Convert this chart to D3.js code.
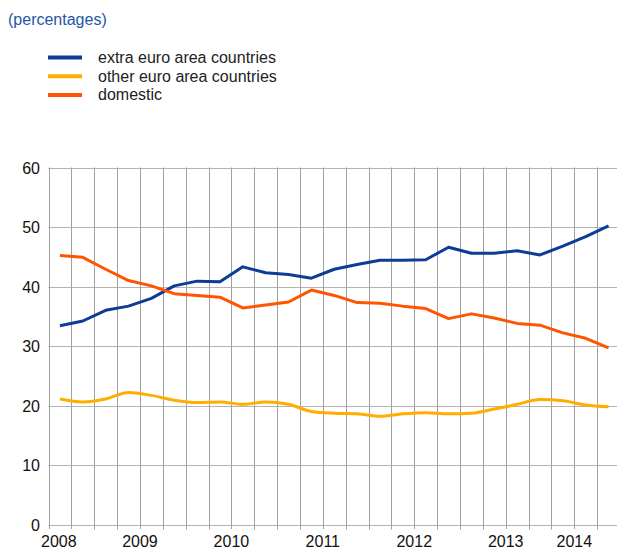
<!DOCTYPE html>
<html>
<head>
<meta charset="utf-8">
<script src="https://cdn.jsdelivr.net/npm/d3@7"></script>
<style>
  html, body { margin: 0; padding: 0; background: #fff; }
  svg { display: block; font-family: "Liberation Sans", Arial, sans-serif; }
</style>
</head>
<body>
<div id="chart"></div>
<script>
// ── Data (quarterly shares, percentages) ─────────────────────────────────────
const extraEuro = [33.4, 34.2, 36.0, 36.7, 38.0, 40.1, 40.9, 40.8, 43.3, 42.3, 42.0, 41.4, 42.9,
                   43.7, 44.4, 44.4, 44.5, 46.6, 45.6, 45.6, 46.0, 45.3, 46.8, 48.4, 50.2];
const otherEuro = [21.1, 20.6, 21.1, 22.2, 21.7, 20.9, 20.5, 20.6, 20.2, 20.6, 20.2, 19.0, 18.7,
                   18.6, 18.2, 18.6, 18.8, 18.6, 18.7, 19.4, 20.2, 21.0, 20.8, 20.1, 19.8];
const domestic  = [45.2, 44.9, 42.9, 41.0, 40.1, 38.8, 38.5, 38.2, 36.4, 36.9, 37.4, 39.4, 38.5,
                   37.3, 37.2, 36.7, 36.3, 34.6, 35.4, 34.7, 33.8, 33.5, 32.2, 31.3, 29.7];

const seriesNames = ['extra euro area countries', 'other euro area countries', 'domestic'];
const yearLabels  = ['2008', '2009', '2010', '2011', '2012', '2013', '2014'];
const yearSlots   = [0.45, 4, 8, 12, 16, 20, 23];   // category-slot boundary under each label
const yTicks      = [0, 10, 20, 30, 40, 50, 60];

const COLORS = ['#0b3d97', '#ffae00', '#ff5500'];
const W = 617, H = 551;
const M = { top: 167.5, left: 48.5, bottom: 524.5 };
const nCat = extraEuro.length;

const svg = d3.select('#chart').append('svg').attr('width', W).attr('height', H);

// ── Scales ───────────────────────────────────────────────────────────────────
// one slot per quarter, points sit in the middle of their slot
const slotW = 22.86;
const x = d3.scaleLinear().domain([0, nCat]).range([M.left, M.left + nCat * slotW]);
const y = d3.scaleLinear().domain([0, 60]).range([M.bottom, M.top]);

// ── Title & legend ───────────────────────────────────────────────────────────
svg.append('text').attr('x', 8).attr('y', 25)
  .attr('font-size', 16).attr('fill', '#2456a6').text('(percentages)');

const leg = svg.append('g');
seriesNames.forEach((name, i) => {
  const cy = 57.5 + i * 18.7;
  leg.append('line').attr('x1', 48).attr('x2', 82).attr('y1', cy).attr('y2', cy)
    .attr('stroke', COLORS[i]).attr('stroke-width', 4);
  leg.append('text').attr('x', 98).attr('y', cy + 5.5)
    .attr('font-size', 16).attr('fill', '#222').text(name);
});

// ── Grid ─────────────────────────────────────────────────────────────────────
const g = svg.append('g');
g.selectAll('line.h').data(yTicks).join('line')
  .attr('x1', M.left).attr('x2', W)
  .attr('y1', d => Math.round(y(d)) + 0.5).attr('y2', d => Math.round(y(d)) + 0.5)
  .attr('stroke', '#b3b3b3');

g.selectAll('line.v').data(d3.range(0, nCat)).join('line')
  .attr('x1', d => Math.round(x(d)) + 0.5).attr('x2', d => Math.round(x(d)) + 0.5)
  .attr('y1', M.top).attr('y2', d => d === 0 ? M.bottom + 6 : M.bottom + 5)
  .attr('stroke', '#a0a0a0');

// ── Axis labels ──────────────────────────────────────────────────────────────
g.selectAll('text.y').data(yTicks).join('text')
  .attr('x', 40).attr('y', d => y(d) + 6)
  .attr('text-anchor', 'end').attr('font-size', 16).attr('fill', '#111')
  .text(d => d);

const xl = g.selectAll('g.xl').data(yearLabels).join('g')
  .attr('transform', (d, i) => `translate(${x(yearSlots[i])},547)`);
xl.append('rect').attr('x', -20).attr('y', -18).attr('width', 40).attr('height', 20).attr('fill', '#fff');
xl.append('text').attr('text-anchor', 'middle').attr('font-size', 16).attr('fill', '#111')
  .text(d => d);

// ── Lines ────────────────────────────────────────────────────────────────────
const all = [extraEuro, otherEuro, domestic];
const curves = [d3.curveLinear, d3.curveMonotoneX, d3.curveLinear];
all.forEach((vals, s) => {
  const line = d3.line()
    .x((d, i) => x(i + 0.5))
    .y(d => y(d))
    .curve(curves[s]);
  svg.append('path').datum(vals)
    .attr('d', line)
    .attr('fill', 'none')
    .attr('stroke', COLORS[s])
    .attr('stroke-width', 3)
    .attr('stroke-linejoin', 'round');
});
</script>
</body>
</html>
